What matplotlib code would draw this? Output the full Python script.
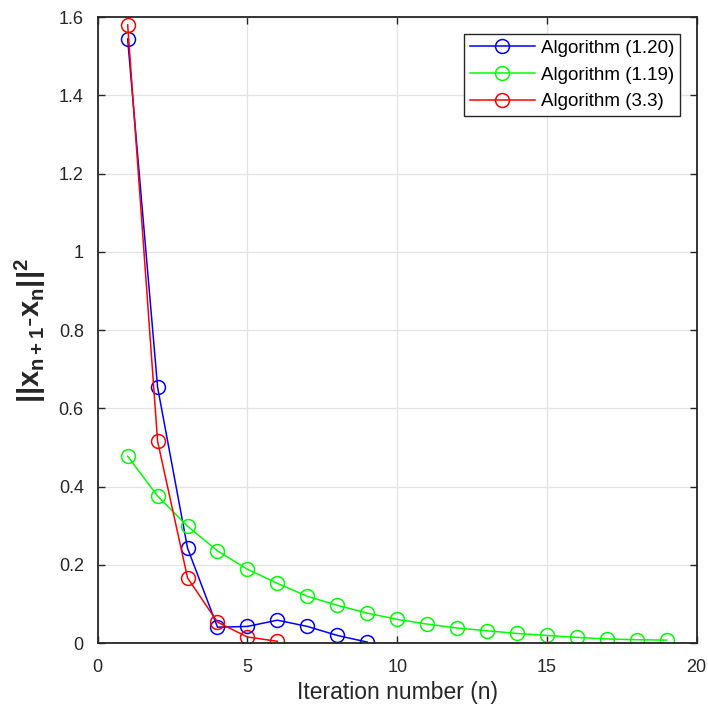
import matplotlib
matplotlib.use("Agg")
import matplotlib.pyplot as plt

# ------------------------------
# Data
# ------------------------------
n_blue = [1, 2, 3, 4, 5, 6, 7, 8, 9]
err_blue = [1.544, 0.654, 0.243, 0.041, 0.043, 0.059, 0.043, 0.020, 0.003]

n_green = list(range(1, 20))
err_green = [0.478, 0.376, 0.299, 0.236, 0.189, 0.153, 0.120, 0.097, 0.077,
             0.061, 0.049, 0.039, 0.032, 0.025, 0.020, 0.015, 0.011, 0.009, 0.008]

n_red = [1, 2, 3, 4, 5, 6]
err_red = [1.580, 0.516, 0.167, 0.054, 0.016, 0.005]

labels = ["Algorithm (1.20)", "Algorithm (1.19)", "Algorithm (3.3)"]
xticks = [0, 5, 10, 15, 20]
yticks = [0, 0.2, 0.4, 0.6, 0.8, 1, 1.2, 1.4, 1.6]
ytick_labels = ["0", "0.2", "0.4", "0.6", "0.8", "1", "1.2", "1.4", "1.6"]

plt.rcParams['font.family'] = ['Liberation Sans', 'DejaVu Sans']
plt.rcParams['mathtext.fontset'] = 'custom'
plt.rcParams['mathtext.rm'] = 'Liberation Sans:bold'
plt.rcParams['mathtext.it'] = 'Liberation Sans:bold'
plt.rcParams['mathtext.default'] = 'rm'

fig = plt.figure(figsize=(7.08, 7.10), dpi=100)
ax = fig.add_axes([0.138, 0.094, 0.846, 0.882])

style = dict(marker='o', markersize=10, fillstyle='none', linewidth=1.1, markeredgewidth=1.1)
ax.plot(n_blue, err_blue, color='#0000ff', label=labels[0], **style)
ax.plot(n_green, err_green, color='#00ff00', label=labels[1], **style)
ax.plot(n_red, err_red, color='#ff0000', label=labels[2], **style)

ax.set_xlim(0, 20)
ax.set_ylim(0, 1.6)
ax.set_xticks(xticks)
ax.set_yticks(yticks)
ax.set_yticklabels(ytick_labels)
ax.grid(True, color='#e3e3e3', linewidth=0.9)
ax.set_axisbelow(True)
ax.tick_params(direction='in', length=5, width=1, labelsize=13, colors='#262626',
               top=True, right=True)
ax.tick_params(axis='x', pad=11)
ax.tick_params(axis='y', pad=10)
for s in ax.spines.values():
    s.set_color('#262626')
    s.set_linewidth(1.3)

ax.set_xlabel("Iteration number (n)", fontsize=16.5, color='#262626', labelpad=4)
ax.set_ylabel(r"$||x_{n+1}$-$x_n||^2$", fontsize=21, color='#262626', labelpad=8)

leg = ax.legend(loc='upper right', fontsize=13.5, fancybox=False, framealpha=1,
                edgecolor='#262626', borderaxespad=0.9, handlelength=3.5,
                handletextpad=0.3, labelspacing=0.52, borderpad=0.3)
leg.get_frame().set_linewidth(1.0)

fig.savefig("out.png", dpi=100)
